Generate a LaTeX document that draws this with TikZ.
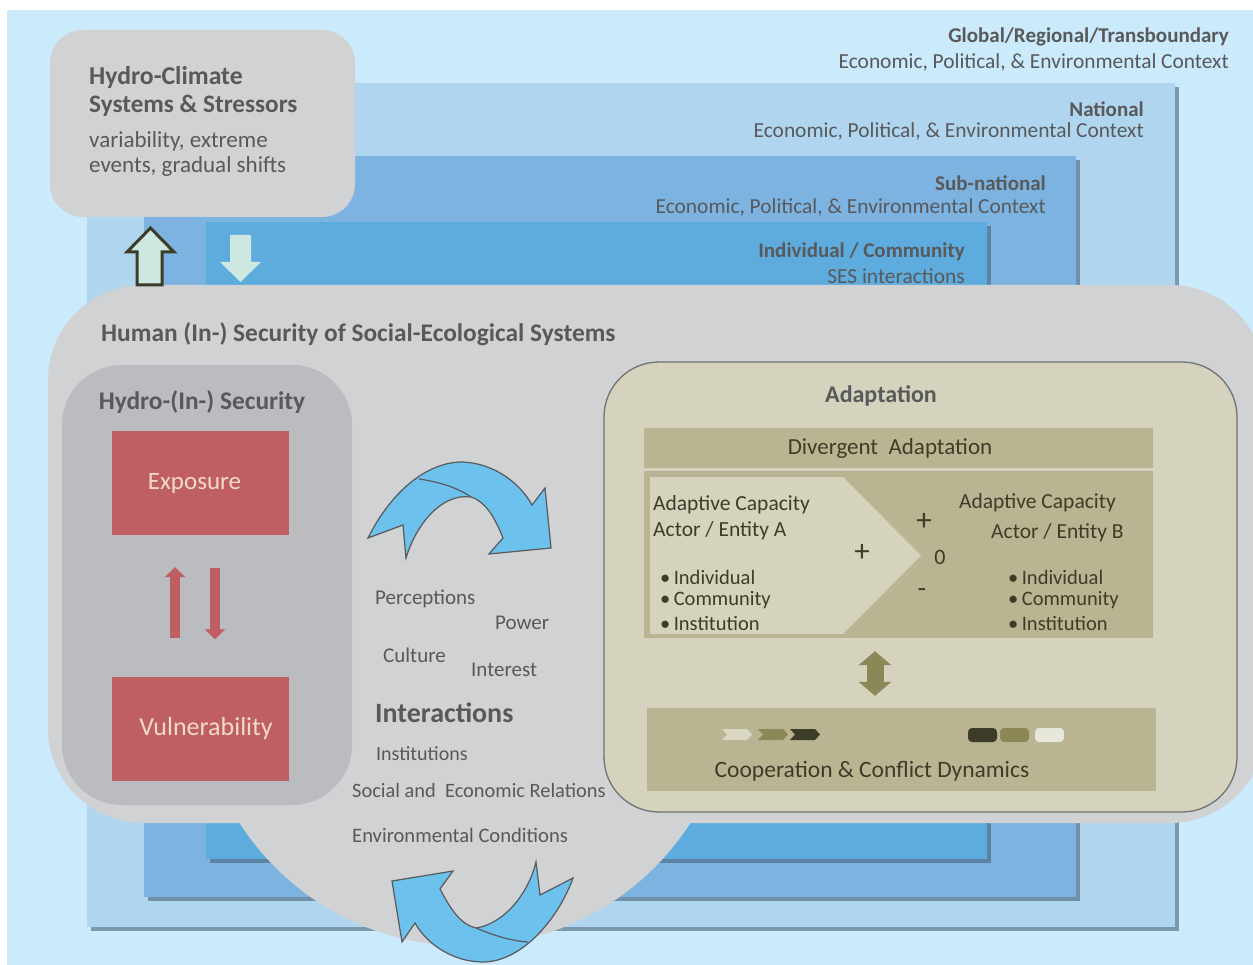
\documentclass[tikz,border=0pt]{standalone}
\usepackage{fontspec}
\setmainfont{Carlito}
\usepackage{tikz}
\usetikzlibrary{arrows.meta, positioning, calc, shadows}
\definecolor{SkyPale}{HTML}{CBEAFB}
\definecolor{NatBlue}{HTML}{B0D5EF}
\definecolor{SubBlue}{HTML}{7DB3E1}
\definecolor{IndBlue}{HTML}{5EACDE}
\definecolor{ShadeBlue}{HTML}{4A627A}
\definecolor{CloudGray}{HTML}{D1D2D4}
\definecolor{HydroGray}{HTML}{BBBCBF}
\definecolor{BrickRed}{HTML}{BF5E63}
\definecolor{Cream}{HTML}{F0DCC6}
\definecolor{Sage}{HTML}{D5D3BD}
\definecolor{Khaki}{HTML}{B9B592}
\definecolor{Olive}{HTML}{8B8757}
\definecolor{DarkOlive}{HTML}{3D3C28}
\definecolor{ChevLight}{HTML}{D9D7C4}
\definecolor{InkGray}{HTML}{58595B}
\definecolor{ArrowBlue}{HTML}{6CC1ED}
\definecolor{Mint}{HTML}{CDE7E1}
\newcommand{\fsz}[1]{\fontsize{#1}{#1}\selectfont}
\newcommand{\ctxline}{Economic, Political, \& Environmental Context}
\tikzset{
  layer/.style={rectangle, inner sep=0pt,
    drop shadow={shadow xshift=4pt, shadow yshift=-4pt, opacity=.6, fill=ShadeBlue}},
  ctxhead/.style={anchor=east, inner sep=0pt, text=InkGray, font=\fsz{21}\bfseries},
  ctxbody/.style={anchor=east, inner sep=0pt, text=InkGray, font=\fsz{21.4}},
  greytxt/.style={anchor=west, inner sep=0pt, text=InkGray, font=\fsz{21}},
  olivetxt/.style={inner sep=0pt, text=DarkOlive, font=\fsz{21}},
  redbox/.style={fill=BrickRed, inner sep=0pt, minimum width=177pt, minimum height=104pt,
    text=Cream, font=\fsz{25}},
  redlink/.style={draw=BrickRed, line width=10pt, -{Triangle[width=20pt, length=10pt]}},
  olivelink/.style={draw=Olive, line width=17pt,
    {Triangle[width=32pt, length=14pt]}-{Triangle[width=32pt, length=14pt]}},
  swirl/.style={fill=ArrowBlue, draw=InkGray, line width=1.2pt, line join=miter}
}

\begin{document}
\begin{tikzpicture}[x=1pt, y=-1pt]
\useasboundingbox (0,0) rectangle (1253,965);

% nested contexts
\node[fill=SkyPale, inner sep=0pt, minimum width=1246pt, minimum height=955pt] (globe) at (630,487.5) {};
\node[layer, fill=NatBlue, minimum width=1088pt, minimum height=844pt] (national) at (631,505) {};
\node[layer, fill=SubBlue, minimum width=932pt, minimum height=741pt] (subnational) at (610,526.5) {};
\node[layer, fill=IndBlue, minimum width=781pt, minimum height=637pt] (community) at (596.5,540.5) {};

\node[ctxhead] (globhead) at (1229,37) {Global/Regional/Transboundary};
\node[ctxbody] (globtxt) at (1229,62) {\ctxline};
\node[ctxhead] (nathead) at (1144,109) {National};
\node[ctxbody] (nattxt) at (1144,131) {\ctxline};
\node[ctxhead] (subhead) at (1046,183) {Sub-national};
\node[ctxbody] (subtxt) at (1046,207) {\ctxline};
\node[ctxhead] (comhead) at (965,252) {Individual / Community};
\node[ctxbody] (comtxt) at (965,276) {SES interactions};

% hydro-climate stressors
\node[fill=CloudGray, rounded corners=33pt, inner sep=0pt,
      minimum width=305pt, minimum height=187pt] (climate) at (202.5,123.5) {};
\node[greytxt, font=\fsz{25.7}\bfseries] (climhead) at (89,78) {Hydro-Climate};
\node[greytxt, font=\fsz{25.2}\bfseries] (climhead2) at (89,106) {Systems \& Stressors};
\node[greytxt, font=\fsz{23}] (climtxt) at (89,141) {variability, extreme};
\node[greytxt, font=\fsz{23}] (climtxt2) at (89,166) {events, gradual shifts};

% human (in-) security
\node[fill=CloudGray, rounded corners=95pt, inner sep=0pt,
      minimum width=1217pt, minimum height=538pt] (human) at (656.5,554) {};
\fill[CloudGray] (465,678) circle[radius=268];
\node[greytxt, font=\fsz{25.4}\bfseries] (humanhead) at (101,334)
  {Human (In-) Security of Social-Ecological Systems};

\draw[draw=DarkOlive, fill=Mint, line width=3pt, line join=miter]
  (137,285) -- (137,252) -- (127,252) -- (150.5,228) -- (174,252) -- (162,252) -- (162,285) -- cycle;
\fill[Mint] (230,235) -- (251,235) -- (251,262) -- (261,262) -- (240.5,282) -- (220,262) -- (230,262) -- cycle;

% hydro-(in-) security
\node[fill=HydroGray, rounded corners=60pt, inner sep=0pt,
      minimum width=290pt, minimum height=440pt] (hydrosec) at (207,585) {};
\node[inner sep=0pt, text=InkGray, font=\fsz{25.4}\bfseries] (sechead) at (202,402) {Hydro-(In-) Security};
\node[redbox] (expo) at (200.5,483) {\hspace*{-12pt}Exposure};
\node[redbox, font=\fsz{26}] (vul) at (200.5,728.5) {\hspace*{11pt}Vulnerability};
\draw[redlink, shorten <=38pt, shorten >=32pt] ([xshift=-25.5pt]vul.north) -- ([xshift=-25.5pt]expo.south);
\draw[redlink, shorten <=33pt, shorten >=37pt] ([xshift=14.5pt]expo.south) -- ([xshift=14.5pt]vul.north);

% interactions
\node[greytxt] (percep) at (375,599) {Perceptions};
\node[greytxt] (power) at (495,623) {Power};
\node[greytxt] (culture) at (383,655) {Culture};
\node[greytxt] (interest) at (471,670) {Interest};
\node[greytxt, font=\fsz{28}\bfseries] (interact) at (375,713) {Interactions};
\node[greytxt, font=\fsz{20}] (instit) at (376,754) {Institutions};
\node[greytxt, font=\fsz{20.4}] (relations) at (352,790) {Social and\ \ Economic Relations};
\node[greytxt, font=\fsz{20.6}] (environ) at (352,835) {Environmental Conditions};

\draw[swirl] (368,538) .. controls (392,490) and (428,462) .. (462,462)
  .. controls (494,463) and (520,483) .. (532,505) -- (545,488) -- (551,548) -- (489,554) -- (503,538)
  .. controls (495,518) and (486,502) .. (471,497)
  .. controls (443,493) and (417,522) .. (406,558) -- (403,525) -- cycle;
\draw[InkGray, line width=1.2pt] (419,479) .. controls (440,482) and (458,488) .. (471,497);

\draw[swirl] (392,881) -- (453,871) -- (440,889)
  .. controls (452,912) and (462,925) .. (476,928)
  .. controls (503,924) and (528,895) .. (536,862) -- (540,895) -- (573,878)
  .. controls (557,922) and (520,962) .. (483,962)
  .. controls (455,962) and (428,946) .. (415,923) -- (402,942) -- cycle;
\draw[InkGray, line width=1.2pt] (476,928) .. controls (495,936) and (512,941) .. (528,942);

% adaptation
\node[fill=Sage, draw=InkGray!85, line width=1.3pt, rounded corners=55pt, inner sep=0pt,
      minimum width=633pt, minimum height=450pt] (adapt) at (920.5,587) {};
\node[inner sep=0pt, text=InkGray, font=\fsz{24}\bfseries] (adapthead) at (881,396) {Adaptation};
\node[fill=Khaki, inner sep=0pt, minimum width=509pt, minimum height=40pt,
      text=DarkOlive, font=\fsz{23}] (divergent) at (898.5,448) {\hspace{-17pt}Divergent\ \ Adaptation};
\node[fill=Khaki, inner sep=0pt, minimum width=509pt, minimum height=167pt] (capacity) at (898.5,554.5) {};
\fill[Sage] (650,477) -- (843,477) -- (921,555.5) -- (843,634) -- (650,634) -- cycle;

\node[olivetxt, anchor=west, font=\fsz{21.5}] (capA) at (653,505) {Adaptive Capacity};
\node[olivetxt, anchor=west, font=\fsz{21.5}] (actorA) at (653,531) {Actor / Entity A};
\node[olivetxt, anchor=west, font=\fsz{20.5}] (indA) at (660,577) {•\,Individual};
\node[olivetxt, anchor=west, font=\fsz{20.5}] (comA) at (660,600) {•\,Community};
\node[olivetxt, anchor=west, font=\fsz{20.5}] (insA) at (660,623) {•\,Institution};
\node[olivetxt, font=\fsz{31}] (plusA) at (862,553) {+};

\node[olivetxt, font=\fsz{31}] (plusB) at (924,522) {+};
\node[olivetxt, font=\fsz{22}] (zeroB) at (940,557) {0};
\node[olivetxt, font=\fsz{28}] (minusB) at (922,593) {-};
\node[olivetxt, anchor=west, font=\fsz{21.5}] (capB) at (959,503) {Adaptive Capacity};
\node[olivetxt, anchor=west, font=\fsz{21.5}] (actorB) at (991,533) {Actor / Entity B};
\node[olivetxt, anchor=west, font=\fsz{20.5}] (indB) at (1008,577) {•\,Individual};
\node[olivetxt, anchor=west, font=\fsz{20.5}] (comB) at (1008,600) {•\,Community};
\node[olivetxt, anchor=west, font=\fsz{20.5}] (insB) at (1008,623) {•\,Institution};

% cooperation and conflict
\node[fill=Khaki, inner sep=0pt, minimum width=509pt, minimum height=83pt] (coop) at (901.5,749.5) {};
\node[olivetxt, font=\fsz{23.5}] (cooptxt) at (872,771) {Cooperation \& Conflict Dynamics};
\draw[olivelink, shorten <=13pt, shorten >=12pt] ([xshift=-23.5pt]capacity.south) -- ([xshift=-26.5pt]coop.north);
\foreach \x/\c in {722/ChevLight, 758/Olive, 790/DarkOlive}
  \fill[\c] (\x,729) -- ++(25,0) -- ++(5,5.5) -- ++(-5,5.5) -- ++(-25,0) -- ++(5,-5.5) -- cycle;
\foreach \x/\c in {968/DarkOlive, 1000/Olive, 1035/ChevLight!60!white}
  \fill[\c, rounded corners=4pt] (\x,728) rectangle ++(29,14);
\end{tikzpicture}
\end{document}
